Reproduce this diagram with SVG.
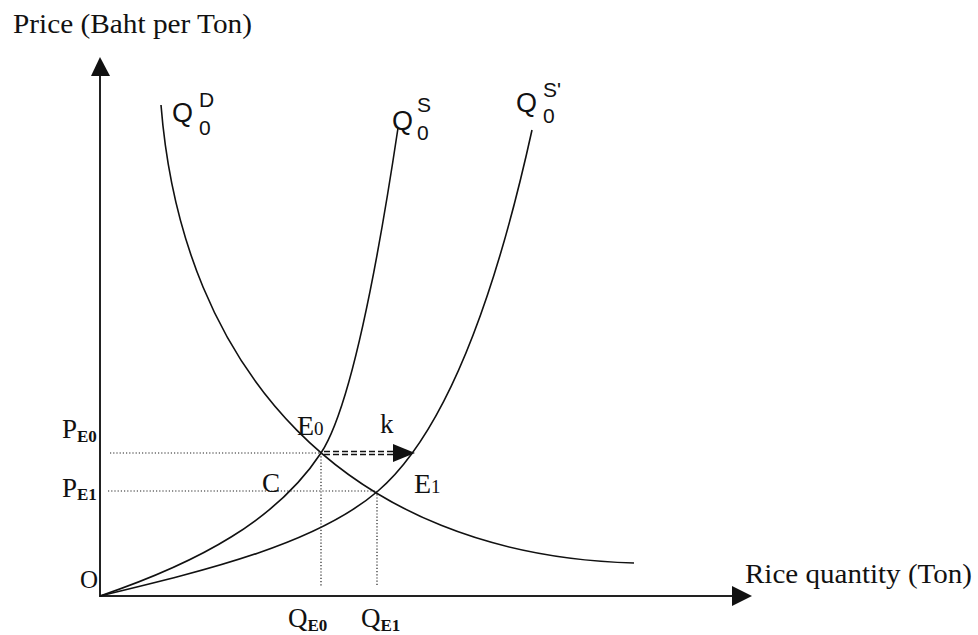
<svg xmlns="http://www.w3.org/2000/svg" width="978" height="635" viewBox="0 0 978 635">
<style>
.ax{stroke:#222;stroke-width:2;fill:none}
.cv{stroke:#111;stroke-width:1.6;fill:none}
.dot{stroke:#222;stroke-width:1.2;fill:none;stroke-dasharray:1.2 2}
.dash{stroke:#111;stroke-width:1.4;fill:none;stroke-dasharray:6 3}
.t{font-family:"Liberation Serif","Times New Roman",serif;fill:#111}
.q{font-family:"Liberation Sans",Arial,sans-serif;fill:#111}
</style>
<rect width="978" height="635" fill="#fff"/>
<g id="axes">
<line class="ax" x1="100" y1="597" x2="100" y2="74"/>
<polygon points="100,57 91,76 110,76" fill="#111"/>
<line class="ax" x1="99" y1="596" x2="734" y2="596"/>
<polygon points="752,596 732,586 732,606" fill="#111"/>
<text class="t" x="13" y="33" font-size="27" textLength="239" lengthAdjust="spacingAndGlyphs">Price (Baht per Ton)</text>
<text class="t" x="745" y="583" font-size="27" textLength="227" lengthAdjust="spacingAndGlyphs">Rice quantity (Ton)</text>
<text class="t" x="80" y="588" font-size="25">O</text>
</g>
<g id="connectors">
<path id="demand" class="cv" d="M161,105 C182,370 345,555 634,563"/>
<path id="supply0" class="cv" d="M100,596 C200,562 277,519.8 321,453 C354,403 383.2,226.9 398,128"/>
<path id="supply1" class="cv" d="M100,596 C210,569.6 317.4,543.2 378,491 C446.2,432.3 495.5,296 532,130"/>
<line class="dot" x1="110" y1="453" x2="321" y2="453"/>
<line class="dot" x1="108" y1="491" x2="377" y2="491"/>
<line class="dot" x1="321" y1="453" x2="321" y2="587"/>
<line class="dot" x1="377" y1="491" x2="377" y2="586"/>
<g id="shift-arrow">
<line class="dash" x1="324" y1="451.5" x2="394" y2="451.5"/>
<line class="dash" x1="324" y1="454.5" x2="394" y2="454.5"/>
<polygon points="415,453 393,444 393,462" fill="#111"/>
</g>
</g>
<g id="label-QD">
<text class="q" x="172" y="122" font-size="27">Q</text>
<text class="q" x="199" y="107" font-size="21">D</text>
<text class="q" x="199" y="135" font-size="21">0</text>
</g>
<g id="label-QS">
<text class="q" x="392" y="130" font-size="27">Q</text>
<text class="q" x="417" y="112" font-size="21">S</text>
<text class="q" x="417" y="140" font-size="21">0</text>
</g>
<g id="label-QS1">
<text class="q" x="516" y="112" font-size="27">Q</text>
<text class="q" x="543" y="97" font-size="21">S'</text>
<text class="q" x="543" y="123" font-size="21">0</text>
</g>
<g id="label-E0"><text class="t" x="297" y="435" font-size="28">E<tspan font-size="19">0</tspan></text></g>
<g id="label-E1"><text class="t" x="414" y="493" font-size="28">E<tspan font-size="19">1</tspan></text></g>
<g id="label-k"><text class="t" x="380" y="433" font-size="27">k</text></g>
<g id="label-C"><text class="t" x="262" y="492" font-size="27">C</text></g>
<g id="label-PE0"><text class="t" x="62" y="438" font-size="27">P<tspan font-size="17" font-weight="bold" dy="4">E0</tspan></text></g>
<g id="label-PE1"><text class="t" x="62" y="497" font-size="27">P<tspan font-size="17" font-weight="bold" dy="3">E1</tspan></text></g>
<g id="label-QE0"><text class="t" x="288" y="627" font-size="27">Q<tspan font-size="17" font-weight="bold" dy="4">E0</tspan></text></g>
<g id="label-QE1"><text class="t" x="361" y="627" font-size="27">Q<tspan font-size="17" font-weight="bold" dy="4">E1</tspan></text></g>
</svg>
